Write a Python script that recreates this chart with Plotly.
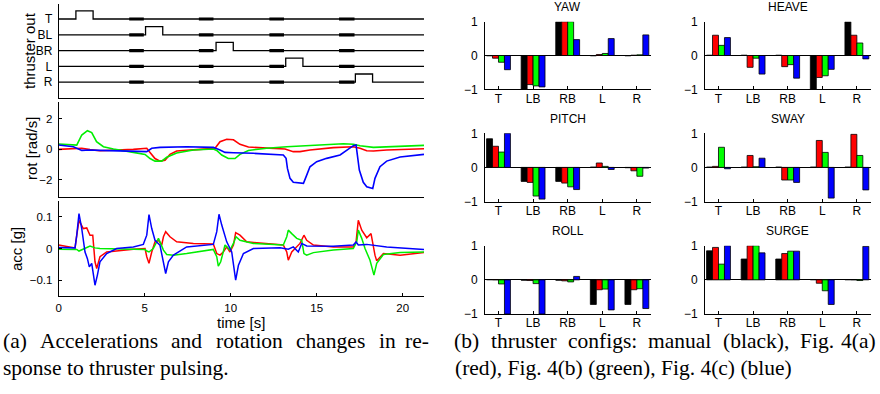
import plotly.graph_objects as go

W, H = 880, 394


def fx(p):
    return p / W


def fy(p):
    return 1 - p / H


# ------------------------------------------------------------------ data
time_ticks = [0, 5, 10, 15, 20]
t_end = 21.24

thrusters = ["T", "BL", "BR", "L", "R"]
thruster_levels = [5, 4, 3, 2, 1]
pulse_on = [1.0, 5.05, 9.15, 13.2, 17.25]
pulse_off = [2.0, 6.05, 10.15, 14.2, 18.25]
pulse_height = 0.52
busy_start = [4.1, 8.15, 12.25, 16.3]
busy_end = [4.95, 9.0, 13.1, 17.2]

rot_red_t = [0, 1.05, 1.34, 1.82, 2.4, 4.34, 5.12, 5.31, 5.6, 5.89, 6.18, 6.47, 6.86, 8.22, 9.09,
             9.38, 9.77, 10.16, 10.54, 11.03, 12.09, 13.16, 13.64, 14.03, 14.61, 15.97, 17.13,
             17.52, 17.91, 18.3, 19.07, 21.24]
rot_red_v = [0.0, 0.02, 0.07, -0.02, -0.09, 0.0, 0.07, -0.2, -0.6, -0.77, -0.72, -0.33, -0.11, 0.0,
             0.07, 0.5, 0.66, 0.63, 0.33, 0.15, 0.09, 0.02, -0.15, -0.15, -0.04, 0.11, 0.17, 0.07,
             -0.09, -0.11, -0.04, 0.04]

rot_green_t = [0, 1.05, 1.34, 1.67, 1.92, 2.2, 2.6, 3.18, 4.34, 5.02, 5.31, 5.6, 5.99, 6.28, 6.86,
               7.83, 8.99, 9.19, 9.48, 9.86, 10.25, 10.54, 11.03, 12.09, 13.26, 14.03, 15.97, 16.55,
               17.13, 17.52, 18.3, 18.88, 21.24]
rot_green_v = [0.35, 0.28, 0.94, 1.22, 1.1, 0.5, 0.17, 0.02, -0.2, -0.33, -0.6, -0.77, -0.77, -0.52,
               -0.24, -0.04, 0.02, -0.07, -0.37, -0.6, -0.6, -0.33, -0.07, 0.07, 0.17, 0.22, 0.33,
               0.37, 0.33, 0.24, 0.13, 0.15, 0.26]

rot_blue_t = [0, 0.85, 1.34, 1.82, 2.4, 4.34, 5.12, 5.41, 5.89, 7.44, 8.99, 9.38, 9.67, 10.16, 11.32,
              13.06, 13.22, 13.3, 13.45, 13.64, 14.23, 14.38, 14.61, 15.0, 15.58, 16.36, 17.13,
              17.29, 17.36, 17.48, 17.71, 17.91, 18.26, 18.39, 18.68, 19.07, 19.85, 21.24]
rot_blue_v = [0.28, 0.17, -0.07, -0.04, -0.07, -0.15, -0.15, 0.07, 0.13, 0.17, 0.13, -0.04, -0.2,
              -0.22, -0.26, -0.37, -0.59, -1.25, -1.9, -2.16, -2.23, -1.8, -1.14, -0.81, -0.59,
              -0.37, 0.24, 0.28, -0.37, -1.36, -2.16, -2.45, -2.56, -1.9, -1.14, -0.77, -0.5, -0.33]

acc_red_t = [0, 0.95, 1.05, 1.18, 1.43, 1.63, 1.82, 1.98, 2.11, 2.21, 2.4, 2.79, 4.34, 5.02, 5.12,
             5.25, 5.41, 5.6, 5.8, 5.99, 6.09, 6.22, 6.47, 6.86, 7.83, 8.99, 9.19, 9.38, 9.57,
             9.77, 9.96, 10.16, 10.29, 10.54, 10.93, 12.09, 13.06, 13.26, 13.35, 13.55, 14.03,
             14.26, 14.42, 14.81, 15.97, 17.13, 17.29, 17.42, 17.62, 17.91, 18.16, 18.39, 18.49,
             18.88, 19.85, 21.24]
acc_red_v = [0.011, 0.002, 0.042, 0.089, 0.063, 0.065, 0.042, 0.042, -0.042, -0.063, -0.026, -0.011,
             -0.002, 0.0, -0.026, -0.047, -0.011, 0.021, 0.026, 0.011, 0.037, 0.053, 0.037, 0.021,
             0.016, 0.014, -0.016, -0.021, -0.011, 0.005, -0.011, 0.011, 0.05, 0.042, 0.021, 0.016,
             0.011, -0.011, -0.037, -0.011, 0.016, 0.042, 0.026, 0.011, 0.005, 0.005, 0.021, 0.089,
             0.058, 0.034, 0.047, -0.021, -0.039, -0.016, -0.021, -0.013]

acc_green_t = [0, 1.05, 1.18, 1.53, 1.82, 2.11, 2.4, 4.34, 5.02, 5.12, 5.25, 5.5, 5.7, 5.8, 5.89,
               6.09, 6.28, 6.67, 7.44, 8.99, 9.19, 9.28, 9.42, 9.67, 9.96, 10.16, 10.31, 10.54,
               11.32, 13.06, 13.26, 13.35, 13.55, 13.84, 14.13, 14.26, 14.42, 14.81, 15.97, 17.13,
               17.33, 17.42, 17.62, 17.81, 18.1, 18.33, 18.49, 18.88, 19.85, 21.24]
acc_green_v = [-0.002, -0.003, -0.008, 0.0, 0.008, 0.002, 0.0, -0.002, -0.003, -0.008, -0.011, 0.0,
               0.021, 0.032, 0.021, -0.005, -0.019, -0.021, -0.016, -0.003, -0.026, -0.056, -0.042,
               0.011, -0.005, 0.016, 0.037, 0.026, 0.016, 0.011, 0.037, 0.058, 0.047, 0.032, 0.026,
               -0.016, -0.021, -0.013, -0.005, 0.0, 0.021, 0.058, 0.032, 0.0, -0.037, -0.084, -0.047,
               -0.019, -0.013, -0.011]

acc_blue_t = [0, 0.95, 1.05, 1.18, 1.34, 1.53, 1.67, 1.78, 1.92, 2.11, 2.25, 2.4, 2.79, 3.37, 4.34,
              4.92, 5.12, 5.25, 5.41, 5.6, 5.89, 6.09, 6.22, 6.38, 6.67, 7.44, 8.99, 9.19, 9.32,
              9.48, 9.77, 10.06, 10.29, 10.45, 10.74, 11.32, 12.87, 13.35, 13.64, 13.93, 14.13,
              14.42, 15.97, 17.13, 17.29, 17.42, 17.91, 19.07, 21.24]
acc_blue_v = [0.003, 0.002, 0.042, 0.11, 0.063, -0.011, -0.032, -0.058, -0.047, -0.116, -0.084,
              -0.042, -0.016, 0.0, 0.005, 0.013, 0.042, 0.107, 0.063, 0.026, 0.01, -0.042, -0.079,
              -0.042, -0.021, 0.005, 0.013, 0.053, 0.108, 0.074, 0.021, -0.011, -0.1, -0.053,
              -0.016, 0.0, 0.002, -0.002, 0.005, -0.011, 0.016, 0.008, 0.007, 0.011, 0.021, 0.011,
              0.013, 0.005, -0.003]

bar_cats = ["T", "LB", "RB", "L", "R"]
config_names = ["manual", "Fig. 4(a)", "Fig. 4(b)", "Fig. 4(c)"]
config_colors = ["#000000", "#ff0000", "#00ff00", "#0000ff"]

yaw_manual = [-0.01, -1.0, 1.0, -0.01, -0.01]
yaw_4a = [-0.08, -0.86, 1.0, 0.03, 0.01]
yaw_4b = [-0.2, -0.9, 1.0, 0.06, 0.02]
yaw_4c = [-0.42, -0.93, 0.47, 0.5, 0.61]

heave_manual = [0.01, 0.01, 0.01, -1.0, 1.0]
heave_4a = [0.6, -0.35, -0.33, -0.65, 0.6]
heave_4b = [0.3, -0.08, -0.27, -0.6, 0.37]
heave_4c = [0.53, -0.55, -0.67, -0.41, -0.1]

pitch_manual = [0.84, -0.41, -0.41, 0.01, -0.01]
pitch_4a = [0.62, -0.44, -0.46, 0.13, -0.1]
pitch_4b = [0.45, -0.84, -0.57, 0.03, -0.26]
pitch_4c = [1.0, -0.93, -0.65, -0.06, -0.02]

sway_manual = [0.01, 0.01, 0.01, 0.01, 0.01]
sway_4a = [0.03, 0.35, -0.37, 0.79, 0.97]
sway_4b = [0.59, 0.02, -0.37, 0.44, 0.35]
sway_4c = [-0.04, 0.27, -0.44, -0.9, -0.66]

roll_manual = [0.01, -0.01, -0.01, -0.72, -0.72]
roll_4a = [0.005, -0.02, -0.03, -0.29, -0.29]
roll_4b = [-0.12, -0.11, -0.06, -0.27, -0.26]
roll_4c = [-1.0, -1.0, 0.1, -0.88, -0.84]

surge_manual = [0.85, 0.61, 0.61, 0.01, 0.01]
surge_4a = [0.95, 1.0, 0.77, -0.1, 0.005]
surge_4b = [0.46, 1.0, 0.84, -0.32, -0.02]
surge_4c = [1.0, 0.79, 0.84, -0.72, 0.98]

panels = [
    ("YAW", [yaw_manual, yaw_4a, yaw_4b, yaw_4c]),
    ("HEAVE", [heave_manual, heave_4a, heave_4b, heave_4c]),
    ("PITCH", [pitch_manual, pitch_4a, pitch_4b, pitch_4c]),
    ("SWAY", [sway_manual, sway_4a, sway_4b, sway_4c]),
    ("ROLL", [roll_manual, roll_4a, roll_4b, roll_4c]),
    ("SURGE", [surge_manual, surge_4a, surge_4b, surge_4c]),
]

caption_a_line1 = ["(a)", "Accelerations", "and", "rotation", "changes", "in", "re-"]
caption_a_line2 = "sponse to thruster pulsing."
caption_b_line1 = ["(b)", "thruster", "configs:", "manual", "(black),", "Fig.", "4(a)"]
caption_b_line2 = "(red), Fig. 4(b) (green), Fig. 4(c) (blue)"

# ------------------------------------------------------------------ layout geometry (pixels)
SANS = "Liberation Sans"
SERIF = "Liberation Serif"
LX = [58.7, 424.0]
L_ROWS = [(4, 98), (102, 196.7), (201, 296)]
B_COLS = [(485, 650.7), (705, 870.7)]
B_ROWS = [(21.7, 89.3), (133.3, 201.5), (245.7, 314)]
CAP_A_X = [0.5, 37.8, 169.4, 213.8, 294.1, 376.8, 431]     # last one right-anchored
CAP_B_X = [452.5, 488.8, 565.7, 646.2, 720.7, 798.2, 878]  # last one right-anchored

fig = go.Figure()
layout = dict(
    width=W, height=H, margin=dict(l=0, r=0, t=0, b=0, pad=0, autoexpand=False),
    paper_bgcolor="white", plot_bgcolor="white", showlegend=False,
    font=dict(family=SANS, size=12, color="black"),
    barmode="group", bargap=0.31, bargroupgap=0.0,
)

common_axis = dict(showgrid=False, zeroline=False, showline=True, linecolor="black",
                   linewidth=1, mirror=False, tickcolor="black", ticklen=3, tickwidth=1)

# left column axes
for i, (top, bot) in enumerate(L_ROWS):
    n = i + 1
    xa = dict(common_axis, domain=[fx(LX[0]), fx(LX[1])], range=[0, t_end],
              anchor="y" if n == 1 else f"y{n}", tickvals=time_ticks, ticks="inside",
              showticklabels=(n == 3), tickfont=dict(size=11.5), ticklabelstandoff=1)
    if n != 3:
        xa["ticks"] = ""
    ya = dict(common_axis, domain=[fy(bot), fy(top)],
              anchor="x" if n == 1 else f"x{n}", ticks="inside", ticklabelstandoff=3)
    layout["xaxis" if n == 1 else f"xaxis{n}"] = xa
    layout["yaxis" if n == 1 else f"yaxis{n}"] = ya

layout["yaxis"].update(range=[0, 5.95], tickvals=thruster_levels, ticktext=thrusters,
                       ticks="", tickfont=dict(size=12))
layout["yaxis2"].update(range=[-3.1, 3.1], tickvals=[-2, 0, 2], ticktext=["\u22122", "0", "2"],
                        tickfont=dict(size=11.5))
layout["yaxis3"].update(range=[-0.15, 0.15], tickvals=[-0.1, 0, 0.1],
                        ticktext=["\u22120.1", "0", "0.1"], tickfont=dict(size=11.5))

# thruster out
for name, k, on, off in zip(thrusters, thruster_levels, pulse_on, pulse_off):
    fig.add_trace(go.Scatter(x=[0, on, on, off, off, t_end],
                             y=[k, k, k + pulse_height, k + pulse_height, k, k],
                             mode="lines", line=dict(color="black", width=1.3),
                             xaxis="x", yaxis="y", hoverinfo="skip"))
    xs, ys = [], []
    for s, e in zip(busy_start, busy_end):
        xs += [s, e, None]
        ys += [k, k, None]
    fig.add_trace(go.Scatter(x=xs, y=ys, mode="lines", line=dict(color="black", width=3.2),
                             xaxis="x", yaxis="y", hoverinfo="skip"))

# rotation
for t, v, c in [(rot_red_t, rot_red_v, "#ff0000"), (rot_green_t, rot_green_v, "#00ee00"),
                (rot_blue_t, rot_blue_v, "#0000ff")]:
    fig.add_trace(go.Scatter(x=t, y=v, mode="lines", line=dict(color=c, width=1.6),
                             xaxis="x2", yaxis="y2"))
# acceleration
for t, v, c in [(acc_red_t, acc_red_v, "#ff0000"), (acc_green_t, acc_green_v, "#00ee00"),
                (acc_blue_t, acc_blue_v, "#0000ff")]:
    fig.add_trace(go.Scatter(x=t, y=v, mode="lines", line=dict(color=c, width=1.5),
                             xaxis="x3", yaxis="y3"))

# bar panels
annotations = []
for p, (title, series) in enumerate(panels):
    n = 4 + p
    col = p % 2
    row = p // 2
    x0, x1 = B_COLS[col]
    y0, y1 = B_ROWS[row]
    layout[f"xaxis{n}"] = dict(common_axis, domain=[fx(x0), fx(x1)], range=[0.61, 5.4],
                               anchor=f"y{n}", tickvals=[1, 2, 3, 4, 5], ticktext=bar_cats,
                               ticks="inside", tickfont=dict(size=12), ticklabelstandoff=-2)
    layout[f"yaxis{n}"] = dict(common_axis, domain=[fy(y1), fy(y0)], range=[-1, 1],
                               anchor=f"x{n}", tickvals=[-1, 0, 1],
                               ticktext=["\u22121", "0", "1"], ticks="inside",
                               tickfont=dict(size=12), zeroline=True, zerolinecolor="black",
                               zerolinewidth=1, ticklabelstandoff=4)
    for vals, cname, ccol in zip(series, config_names, config_colors):
        fig.add_trace(go.Bar(x=[1, 2, 3, 4, 5], y=vals, name=cname, marker_color=ccol,
                             marker_line=dict(color="black", width=0.8),
                             xaxis=f"x{n}", yaxis=f"y{n}", offsetgroup=cname))
    annotations.append(dict(text=title, x=fx((x0 + x1) / 2), y=fy(y0 - 14.5), xref="paper",
                            yref="paper", showarrow=False, font=dict(size=12, family=SANS),
                            xanchor="center", yanchor="middle"))

# axis titles
for text, x, y in [("thruster out", 29, 50), ("rot [rad/s]", 31, 148), ("acc [g]", 17, 249)]:
    annotations.append(dict(text=text, x=fx(x), y=fy(y), xref="paper", yref="paper",
                            showarrow=False, textangle=-90, font=dict(size=15, family=SANS),
                            xanchor="center", yanchor="middle"))
annotations.append(dict(text="time [s]", x=fx(241.3), y=fy(322.5), xref="paper", yref="paper",
                        showarrow=False, font=dict(size=15, family=SANS),
                        xanchor="center", yanchor="middle"))

# captions (justified first lines: one annotation per word)
cap_font = dict(size=21.5, family=SERIF, color="black")
line1_y, line2_y = 341, 367.5
for words, xs_px in [(caption_a_line1, CAP_A_X), (caption_b_line1, CAP_B_X)]:
    for j, (wtxt, x) in enumerate(zip(words, xs_px)):
        anc = "right" if j == len(words) - 1 else "left"
        annotations.append(dict(text=wtxt, x=fx(x), y=fy(line1_y), xref="paper", yref="paper",
                                showarrow=False, font=cap_font, xanchor=anc, yanchor="middle"))
for text, x in [(caption_a_line2, 0.5), (caption_b_line2, 452.5)]:
    annotations.append(dict(text=text, x=fx(x), y=fy(line2_y), xref="paper", yref="paper",
                            showarrow=False, font=cap_font, xanchor="left", yanchor="middle"))

layout["annotations"] = annotations
fig.update_layout(**layout)
fig.write_html("out.html")
